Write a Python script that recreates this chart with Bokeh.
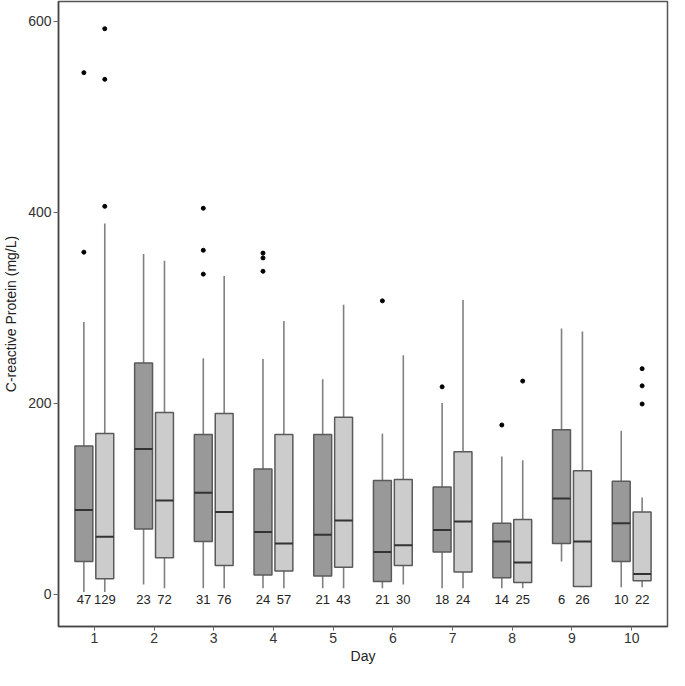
from bokeh.plotting import figure
from bokeh.models import ColumnDataSource, FixedTicker, Range1d
from bokeh.embed import file_html
from bokeh.resources import INLINE
from bokeh.core.properties import value

days = [1, 2, 3, 4, 5, 6, 7, 8, 9, 10]

# Group A (dark grey)
a_n = [47, 23, 31, 24, 21, 21, 18, 14, 6, 10]
a_lo = [2, 10, 6, 6, 6, 6, 6, 6, 34, 7]
a_q1 = [34, 68, 55, 20, 19, 13, 44, 17, 53, 34]
a_med = [88, 152, 106, 65, 62, 44, 67, 55, 100, 74]
a_q3 = [155, 242, 167, 131, 167, 119, 112, 74, 172, 118]
a_hi = [285, 356, 247, 246, 225, 168, 200, 144, 278, 171]
a_out_day = [1, 1, 3, 3, 3, 4, 4, 4, 6, 7, 8]
a_out_val = [358, 546, 335, 360, 404, 338, 352, 357, 307, 217, 177]

# Group B (light grey)
b_n = [129, 72, 76, 57, 43, 30, 24, 25, 26, 22]
b_lo = [2, 6, 6, 6, 6, 10, 6, 6, 7, 7]
b_q1 = [16, 38, 30, 24, 28, 30, 23, 12, 8, 14]
b_med = [60, 98, 86, 53, 77, 51, 76, 33, 55, 21]
b_q3 = [168, 190, 189, 167, 185, 120, 149, 78, 129, 86]
b_hi = [388, 349, 333, 286, 303, 250, 308, 140, 275, 101]
b_out_day = [1, 1, 1, 8, 10, 10, 10]
b_out_val = [406, 539, 592, 223, 199, 218, 236]

y_ticks = [0, 200, 400, 600]

OFF = 0.175
BW = 0.30
FONT = "Liberation Sans"

p = figure(width=669, height=670, output_backend="svg", toolbar_location=None,
           x_range=Range1d(0.4, 10.6), y_range=Range1d(-34, 620.5),
           min_border_left=50, min_border_right=2, min_border_top=1, min_border_bottom=44)
p.xgrid.visible = False
p.ygrid.visible = False
p.outline_line_color = "#555555"
p.outline_line_width = 1.5
p.background_fill_color = "white"
p.border_fill_color = "white"


def draw_group(sign, lo, q1, med, q3, hi, n, od, ov, fill):
    xs = [d + sign * OFF for d in days]
    src = ColumnDataSource(dict(x=xs, lo=lo, q1=q1, med=med, q3=q3, hi=hi,
                                x0=[x - BW / 2 for x in xs], x1=[x + BW / 2 for x in xs],
                                n=[str(v) for v in n], ty=[-6] * len(xs)))
    p.segment(x0="x", y0="q3", x1="x", y1="hi", source=src, line_color="#808080", line_width=1.6)
    p.segment(x0="x", y0="lo", x1="x", y1="q1", source=src, line_color="#808080", line_width=1.6)
    p.vbar(x="x", width=BW, top="q3", bottom="q1", source=src, fill_color=fill,
           line_color="#5a5a5a", line_width=1.5)
    p.segment(x0="x0", y0="med", x1="x1", y1="med", source=src, line_color="#333333", line_width=2)
    p.text(x="x", y="ty", text="n", source=src, text_align="center", text_baseline="middle",
           text_font=value(FONT), text_font_size="13px", text_color="#222222")
    p.scatter(x=[d + sign * OFF for d in od], y=ov, size=4, color="black")


draw_group(-1, a_lo, a_q1, a_med, a_q3, a_hi, a_n, a_out_day, a_out_val, "#999999")
draw_group(1, b_lo, b_q1, b_med, b_q3, b_hi, b_n, b_out_day, b_out_val, "#cccccc")

p.xaxis.ticker = FixedTicker(ticks=days)
p.yaxis.ticker = FixedTicker(ticks=y_ticks)
p.xaxis.axis_label = "Day"
p.yaxis.axis_label = "C-reactive Protein (mg/L)"
for ax in (p.xaxis, p.yaxis):
    ax.axis_label_text_font = FONT
    ax.axis_label_text_font_style = "normal"
    ax.axis_label_text_font_size = "14px"
    ax.axis_label_text_color = "#222222"
    ax.major_label_text_font = FONT
    ax.major_label_text_font_size = "14px"
    ax.major_label_text_color = "#333333"
    ax.axis_line_color = "#444444"
    ax.axis_line_width = 1.5
    ax.major_tick_line_color = "#666666"
    ax.major_tick_in = 0
    ax.minor_tick_line_color = None
p.yaxis.major_tick_out = 5
p.xaxis.major_tick_out = 4
p.xaxis.axis_label_standoff = 2
p.yaxis.axis_label_standoff = 6
p.xaxis.major_label_standoff = 2
p.yaxis.major_label_standoff = 2

open("out.html", "w").write(file_html(p, INLINE))
